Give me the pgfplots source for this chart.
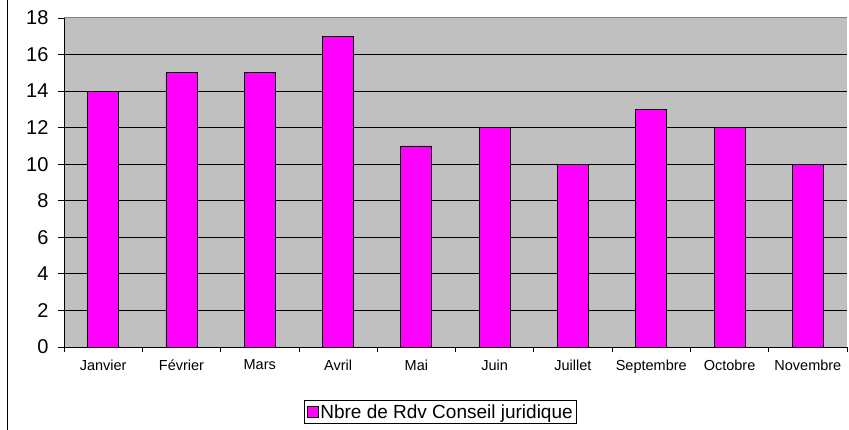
\documentclass[border=0pt]{standalone}
\usepackage{fontspec}
\setmainfont{Liberation Sans}
\usepackage{pgfplots}
\pgfplotsset{compat=1.18}
\definecolor{bargray}{HTML}{C0C0C0}
\definecolor{mag}{HTML}{FF00FF}
\begin{document}
\begin{tikzpicture}[x=1pt,y=1pt]
\begin{axis}[
  at={(64pt,83pt)}, anchor=south west,
  scale only axis, width=783pt, height=329pt,
  xmin=-0.5, xmax=9.5, ymin=0, ymax=18,
  axis background/.style={fill=bargray},
  axis x line=bottom, axis y line=left,
  axis line style={-,black, line width=0.8pt},
  ytick={0,2,...,16},
  extra y ticks={18},
  extra y tick style={grid style={gray, line width=1pt}},
  ymajorgrids, grid style={black, line width=0.8pt},
  tick align=outside,
  major tick length=6pt,
  tick style={black, line width=0.8pt},
  /pgf/number format/assume math mode=true,
  yticklabel style={font=\fontsize{20}{23}\selectfont, xshift=-6pt},
  xtick={0,...,9},
  xticklabels={Janvier,Février,Mars,Avril,Mai,Juin,Juillet,Septembre,Octobre,Novembre},
  x tick style={draw=none},
  xticklabel style={font=\fontsize{14.5}{17}\selectfont, yshift=-3pt},
  extra x ticks={-0.5,0.5,...,9.5},
  extra x tick labels={},
  extra x tick style={x tick style={draw=black}, major tick length=5pt, xmajorgrids=false},
  ybar, bar width=31pt,
  legend style={at={(0.481,-0.198)}, anchor=center, draw=black, line width=0.6pt,
    font=\fontsize{19}{22}\selectfont, inner sep=2pt, legend cell align=left},
  legend image code/.code={\draw[fill=mag,draw=black,line width=0.8pt] (2pt,-5pt) rectangle (13pt,6pt);},
]
\addplot[fill=mag, draw=black, line width=0.8pt] coordinates {
(0,14) (1,15) (2,15) (3,17) (4,11) (5,12) (6,10) (7,13) (8,12) (9,10)};
\addlegendentry{Nbre de Rdv Conseil juridique}
\end{axis}
\draw[black, line width=1pt] (7.5,0) -- (7.5,430);
\pgfresetboundingbox
\useasboundingbox (0,0) rectangle (849,430);
\end{tikzpicture}
\end{document}
